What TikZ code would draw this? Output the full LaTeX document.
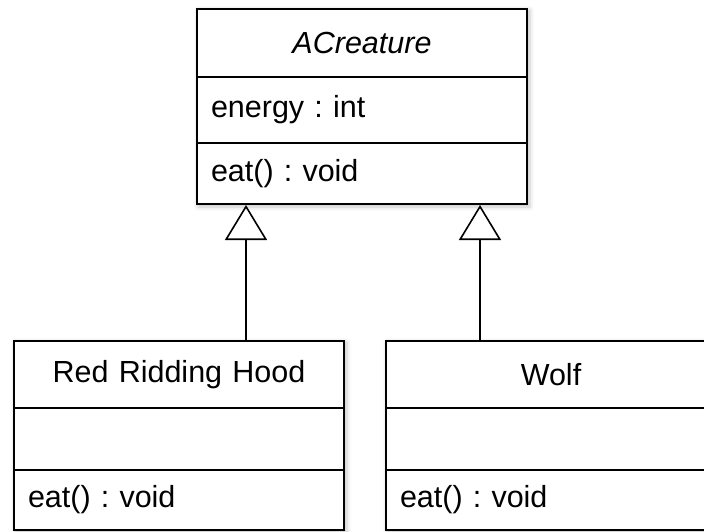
\documentclass[tikz,border=0pt]{standalone}
\usepackage{fontspec}
\setmainfont{Liberation Sans}
\usetikzlibrary{arrows.meta,shadows.blur,backgrounds}

\begin{document}
\frenchspacing
\begin{tikzpicture}[x=1pt,y=-1pt,
  compartment/.style={draw=black, line width=2pt, fill=white,
    minimum width=330pt, text width=302pt, inner xsep=14pt, inner ysep=0pt,
    anchor=north west, font=\fontsize{30.5}{36}\selectfont},
  title/.style={compartment, align=center},
  members/.style={compartment, align=left},
  inherits/.style={line width=2pt,
    -{Triangle[open, length=35pt, width=42pt, line width=1.6pt]}},
  umlshadow/.style={blur shadow={shadow xshift=2pt, shadow yshift=-2pt,
    shadow blur radius=4pt, shadow opacity=22}}
]
\useasboundingbox (0,0) rectangle (704,531);

% abstract base class
\node[title,   minimum height=68pt] (ac-name)  at (196,8)   {\textit{ACreature}};
\node[members, minimum height=66pt] (ac-attr)  at (196,76)  {energy : int};
\node[members, minimum height=61pt] (ac-ops)   at (196,142) {eat() : void};

% subclasses
\node[title,   minimum height=67pt] (rrh-name) at (13,340)  {Red Ridding Hood};
\node[members, minimum height=62pt] (rrh-attr) at (13,407)  {};
\node[members, minimum height=60pt] (rrh-ops)  at (13,469)  {eat() : void};

\node[title,   minimum height=67pt] (wolf-name) at (385,340) {Wolf};
\node[members, minimum height=62pt] (wolf-attr) at (385,407) {};
\node[members, minimum height=60pt] (wolf-ops)  at (385,469) {eat() : void};

% soft shadows behind the class boxes
\begin{scope}[on background layer]
  \path[umlshadow] (ac-name.north west) rectangle (ac-ops.south east);
  \path[umlshadow] (rrh-name.north west) rectangle (rrh-ops.south east);
  \path[umlshadow] (wolf-name.north west) rectangle (wolf-ops.south east);
\end{scope}

% generalisation arrows
\coordinate (rrh-foot)  at ([xshift=233pt]rrh-name.north west);
\coordinate (wolf-foot) at ([xshift=95pt]wolf-name.north west);
\draw[inherits] (rrh-foot)  -- (rrh-foot |- ac-ops.south);
\draw[inherits] (wolf-foot) -- (wolf-foot |- ac-ops.south);
\end{tikzpicture}
\end{document}
